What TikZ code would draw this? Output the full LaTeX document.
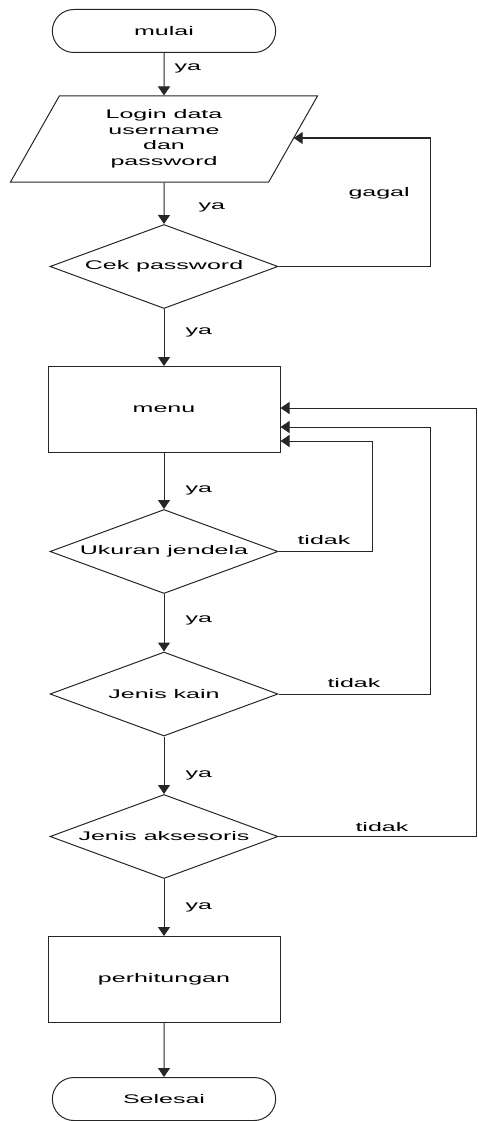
\documentclass[tikz,border=0pt]{standalone}
\usepackage{fontspec}
\setmainfont{Liberation Sans}[FakeStretch=2.0]
\usetikzlibrary{shapes.geometric, shapes.misc, arrows.meta}

\begin{document}
\begin{tikzpicture}[x=1pt, y=-1pt, line width=1pt, draw=black!85,
  font=\fontsize{12.5}{15.5}\selectfont,
  terminal/.style={draw, rounded rectangle, minimum width=230pt, minimum height=43pt},
  inout/.style={draw, trapezium, trapezium left angle=50, trapezium right angle=130,
    trapezium stretches body, minimum width=307pt, minimum height=86pt,
    align=center, inner sep=0pt},
  proses/.style={draw, rectangle, minimum width=232pt, minimum height=86pt},
  cek/.style={draw, diamond, aspect=3, minimum width=228pt, minimum height=84pt, inner sep=0pt},
  panah/.style={-{Triangle[width=12pt,length=9pt]}},
  ket/.style={anchor=west, inner sep=0pt}]
\useasboundingbox (0,0) rectangle (477,1121);

\node[terminal] (mulai) at (164,31) {mulai};
\node[inout] (login) at (164,139) {Login data\\username\\dan\\password};
\node[cek] (cekpass) at (164,266.5) {Cek password};
\node[proses] (menu) at (164,409.5) {menu};
\node[cek] (ukuran) at (164,551.5) {Ukuran jendela};
\node[cek] (kain) at (164,694) {Jenis kain};
\node[cek] (aksesoris) at (164,836.5) {Jenis aksesoris};
\node[proses] (hitung) at (164,979.5) {perhitungan};
\node[terminal] (selesai) at (164,1099) {Selesai};

% alur utama
\draw[panah] (mulai) -- (login);
\draw[panah] (login) -- (cekpass);
\draw[panah] (cekpass) -- (menu);
\draw[panah] (menu) -- (ukuran);
\draw[panah] (ukuran) -- (kain);
\draw[panah] (kain) -- (aksesoris);
\draw[panah] (aksesoris) -- (hitung);
\draw[panah] (hitung) -- (selesai);

% jalur kembali
\coordinate (gagal) at (430,138);
\coordinate (balik1) at (372,441);
\coordinate (balik2) at (430,427);
\coordinate (balik3) at (476,408);
\draw[panah] (cekpass.east) -| (gagal) -- (login.east |- gagal);
\draw[panah] (ukuran.east) -| (balik1) -- (menu.east |- balik1);
\draw[panah] (kain.east) -| (balik2) -- (menu.east |- balik2);
\draw[panah] (aksesoris.east) -| (balik3) -- (menu.east |- balik3);

% keterangan
\node[ket] (ya1) at (174,68) {ya};
\node[ket] (ya2) at (198,207) {ya};
\node[ket] (ya3) at (185,332) {ya};
\node[ket] (ya4) at (185,490) {ya};
\node[ket] (ya5) at (185,620) {ya};
\node[ket] (ya6) at (185,775) {ya};
\node[ket] (ya7) at (185,907) {ya};
\node[ket] (lgagal) at (348,193) {gagal};
\node[ket] (tidak1) at (297,540) {tidak};
\node[ket] (tidak2) at (327,683) {tidak};
\node[ket] (tidak3) at (355,827) {tidak};
\end{tikzpicture}
\end{document}
